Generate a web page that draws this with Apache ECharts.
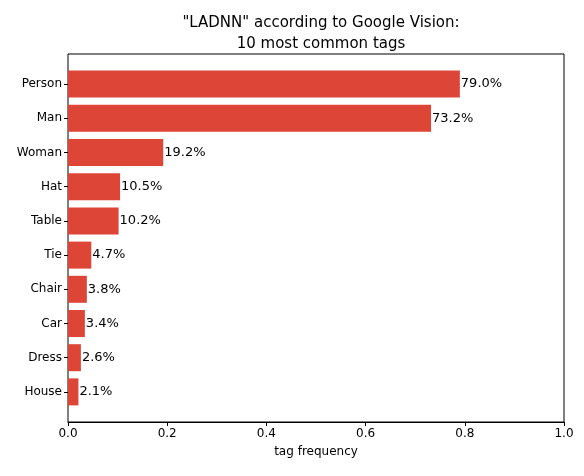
<!DOCTYPE html>
<html><head><meta charset="utf-8">
<script src="https://cdn.jsdelivr.net/npm/echarts@6/dist/echarts.min.js"></script>
<style>html,body{margin:0;padding:0;background:#fff}#c{width:584px;height:476px}</style>
</head><body><div id="c"></div>
<script>
const categories = ["Person","Man","Woman","Hat","Table","Tie","Chair","Car","Dress","House"];
const values = [0.790,0.732,0.192,0.105,0.102,0.047,0.038,0.034,0.026,0.021];
const font = "DejaVu Sans";
const chart = echarts.init(document.getElementById('c'));
chart.setOption({
  animation:false,
  title:{text:'"LADNN" according to Google Vision:\n10 most common tags',left:316,top:8,textAlign:'center',
    textStyle:{fontFamily:font,fontSize:15,fontWeight:'normal',color:'#000',lineHeight:21}},
  grid:[
    {left:68,right:20,top:54,bottom:54,show:true,borderColor:'#000',borderWidth:1,backgroundColor:'transparent'},
    {left:68,right:20,top:67,bottom:67}
  ],
  xAxis:[
    {gridIndex:0,type:'value',min:0,max:1,interval:0.2,splitLine:{show:false},
    axisLine:{show:true,lineStyle:{color:'#000'}},axisTick:{show:true,length:4,lineStyle:{color:'#000'}},
    axisLabel:{fontFamily:font,fontSize:12,color:'#000',margin:6,formatter:v=>v.toFixed(1)},
    name:'tag frequency',nameLocation:'middle',nameGap:24,nameTextStyle:{fontFamily:font,fontSize:12,color:'#000'}},
    {gridIndex:1,type:'value',min:0,max:1,show:false,splitLine:{show:false}}
  ],
  yAxis:[
    {gridIndex:0,type:'value',show:false,splitLine:{show:false}},
    {gridIndex:1,type:'category',data:categories,inverse:true,
    axisLine:{show:false},
    axisTick:{show:true,length:4,alignWithLabel:true,lineStyle:{color:'#000'}},
    axisLabel:{fontFamily:font,fontSize:12,color:'#000',margin:6}}
  ],
  series:[{type:'bar',xAxisIndex:1,yAxisIndex:1,barWidth:27,itemStyle:{color:'#dd4536'},
    data:values,
    label:{show:true,position:'right',distance:1,fontFamily:font,fontSize:13,color:'#000',
      formatter:p=>(p.value*100).toFixed(1)+'%'}}]
});
</script></body></html>
